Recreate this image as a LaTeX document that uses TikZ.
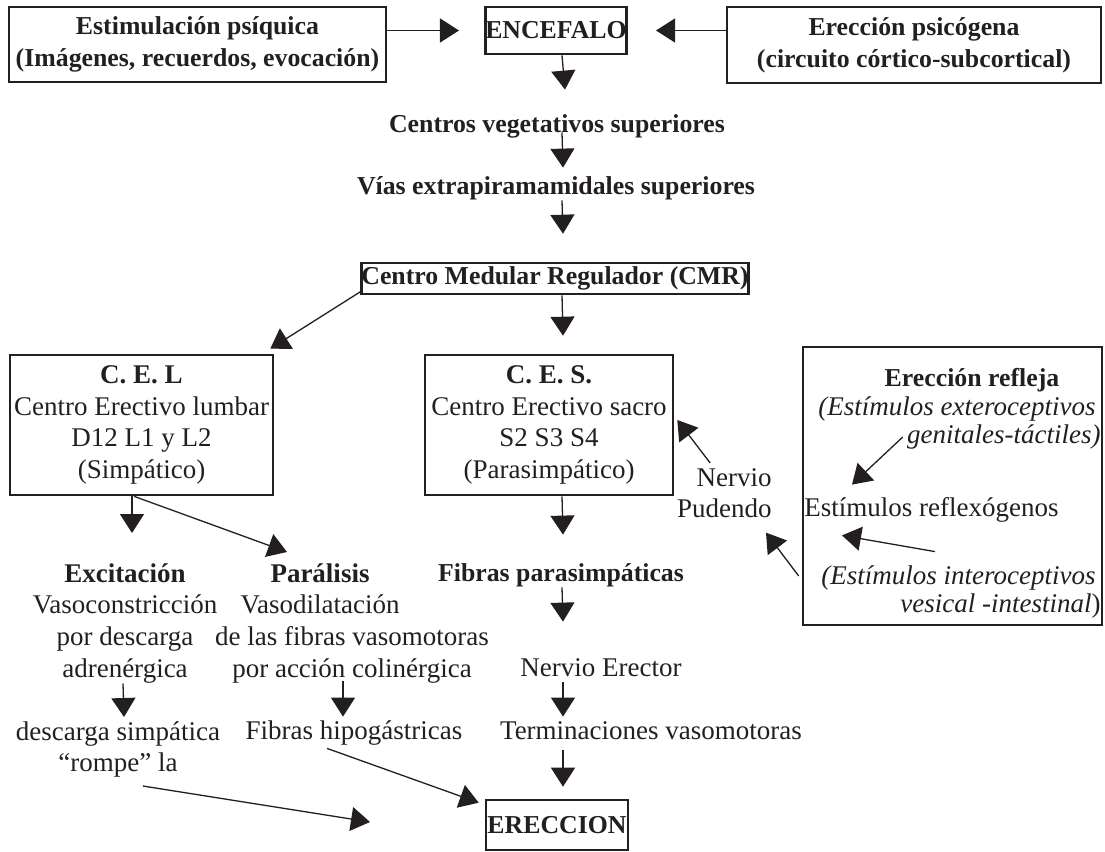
\documentclass[tikz,border=0pt]{standalone}
\usepackage{fontspec}
\setmainfont{Liberation Serif}
\usetikzlibrary{arrows.meta}

\definecolor{ink}{RGB}{35,31,32}
\newcommand\txtfont{\fontsize{13.5}{15.85}\selectfont}
\newcommand\hdfont{\fontsize{12.9}{15.85}\selectfont\bfseries}

\tikzset{
	box/.style = {draw, line width = 1.3pt, inner sep = 0pt, align = center},
	lbl/.style = {inner sep = 0pt, text height = 9pt, text depth = 3pt},
	para/.style = {inner sep = 0pt, align = center},
	arr/.style = {-{Triangle[length = 9.5pt, width = 12pt]}, line width = 0.65pt}
}

\begin{document}
\begin{tikzpicture}[x = 0.5pt, y = -0.5pt, color = ink, every node/.style = {font = \txtfont}]

	\useasboundingbox (0, 0) rectangle (1105, 852);

	% Top row: stimuli into the brain
	
	\node [box, font = \hdfont, minimum width = 188.5pt, minimum height = 37.5pt] (estim) at (197.5, 44.5) {Estimulación psíquica\\(Imágenes, recuerdos, evocación)};
	\node [box, font = \hdfont, minimum width = 70pt, minimum height = 23.5pt] (enc) at (556, 30.5) {ENCEFALO};
	\node [box, font = \hdfont, minimum width = 187pt, minimum height = 38pt] (psic) at (914, 45) {Erección psicógena\\(circuito córtico-subcortical)};
	
	\draw [arr, shorten > = 12.5pt] (estim.east |- enc.west) -- (enc.west);
	\draw [arr, shorten > = 14pt] (psic.west |- enc.east) -- (enc.east);
	
	% Descending pathway to the spinal centres
	
	\node [lbl, font = \hdfont] (veg) at (557, 126) {Centros vegetativos superiores};
	\node [lbl, font = \hdfont] (vias) at (556, 188) {Vías extrapiramamidales superiores};
	\node [box, font = \hdfont, minimum width = 192pt, minimum height = 15.5pt] (cmr) at (555, 278.5) {Centro Medular Regulador (CMR)};
	
	\node [box, minimum width = 131.5pt, minimum height = 70pt] (cel) at (141.5, 425) {{\bfseries C. E. L}\\Centro Erectivo lumbar\\D12 L1 y L2\\(Simpático)};
	\node [box, minimum width = 124pt, minimum height = 70pt] (ces) at (549, 425) {{\bfseries C. E. S.}\\Centro Erectivo sacro\\S2 S3 S4\\(Parasimpático)};
	
	\draw [arr] ([xshift = 3pt] enc.south) -- ([shift = {(4pt, 12pt)}] veg.north);
	\draw [arr] ([shift = {(2.5pt, 3pt)}] veg.south) -- ([shift = {(3.5pt, 4pt)}] vias.north);
	\draw [arr] ([xshift = 3pt] vias.south) -- ([shift = {(4pt, 14pt)}] cmr.north);
	\draw [arr] ([shift = {(0.5pt, 2pt)}] cmr.south west) -- ([shift = {(-2pt, 2.5pt)}] cel.north east);
	\draw [arr] ([xshift = 3.5pt] cmr.south) -- ([shift = {(7pt, 9pt)}] ces.north);
	
	% Reflex erection box with pudendal nerve
	
	\node [box, minimum width = 149.5pt, minimum height = 139pt] (refl) at (952.5, 486) {};
	\node [lbl, font = \hdfont] (refltit) at (972, 380) {Erección refleja};
	\node [lbl, anchor = east, font = \txtfont\itshape] (exter) at (1096, 409) {(Estímulos exteroceptivos};
	\node [lbl, anchor = east, font = \txtfont\itshape] (genit) at (1101, 437) {genitales-táctiles)};
	\node [lbl, anchor = west] (reflex) at (804, 510) {Estímulos reflexógenos};
	\node [lbl, anchor = east, font = \txtfont\itshape] (inter) at (1096, 578) {(Estímulos interoceptivos};
	\node [lbl, anchor = east] (vesic) at (1101, 606) {\textit{vesical -intestinal})};
	
	\node [para, align = right, anchor = north east] (nervio) at (772, 468) {Nervio\\Pudendo};
	
	\draw [arr] ([xshift = -2pt] genit.west) -- ([shift = {(24pt, 6.5pt)}] reflex.north west);
	\draw [arr] ([shift = {(-80.5pt, 7pt)}] inter.north east) -- ([shift = {(19pt, -6.5pt)}] reflex.south west);
	\draw [arr] ([shift = {(16.75pt, 2.5pt)}] nervio.north west) -- ([shift = {(1.5pt, 2.5pt)}] ces.east);
	\draw [arr] ([shift = {(-1.5pt, -45pt)}] refl.west) -- ([shift = {(-3pt, -7pt)}] nervio.south east);
	
	% Sacral branch down to the result
	
	\node [lbl, font = \hdfont] (fibpar) at (561, 575) {Fibras parasimpáticas};
	\node [lbl] (erector) at (601, 670) {Nervio Erector};
	\node [lbl] (term) at (651, 733) {Terminaciones vasomotoras};
	\node [box, font = \hdfont, minimum width = 71pt, minimum height = 25pt] (erec) at (557, 825) {ERECCION};
	
	\draw [arr] ([xshift = 6.5pt] ces.south) -- ([shift = {(1pt, 14pt)}] fibpar.north);
	\draw [arr] ([xshift = 0.5pt] fibpar.south) -- ([shift = {(-19pt, 18pt)}] erector.north);
	\draw [arr] ([xshift = -19pt] erector.south) -- ([shift = {(-44pt, 2pt)}] term.north);
	\draw [arr] ([shift = {(-44pt, -2.5pt)}] term.south) -- ([shift = {(3pt, 6pt)}] erec.north);
	
	% Lumbar branch: excitation and paralysis
	
	\node [para, anchor = north] (excit) at (125, 563) {{\bfseries Excitación}\\Vasoconstricción\\por descarga\\adrenérgica};
	\node [para, anchor = north] (paral) at (320, 563) {{\bfseries Parálisis}\\Vasodilatación};
	\node [para, anchor = north] (paral2) at (352, 626) {de las fibras vasomotoras\\por acción colinérgica};
	\node [para, anchor = north] (simp) at (118, 721) {descarga simpática\\“rompe” la};
	\node [lbl] (hipo) at (354, 733) {Fibras hipogástricas};
	\coordinate (rompe) at (370, 822);
	
	\draw [arr] ([xshift = -4.75pt] cel.south) -- ([shift = {(3.5pt, 15pt)}] excit.north);
	\draw [arr] ([xshift = -3.75pt] cel.south) -- ([shift = {(-16.5pt, 5.5pt)}] paral.north);
	\draw [arr] ([xshift = -1pt] excit.south) -- ([shift = {(3pt, 2pt)}] simp.north);
	\draw [arr] ([shift = {(-4.5pt, 1pt)}] paral2.south) -- ([shift = {(-5.5pt, 2pt)}] hipo.north);
	\draw [arr] ([shift = {(12.5pt, -4pt)}] simp.south) -- (rompe);
	\draw [arr] ([shift = {(-13.5pt, -1.5pt)}] hipo.south) -- ([shift = {(-3pt, -2pt)}] erec.north west);

\end{tikzpicture}
\end{document}
